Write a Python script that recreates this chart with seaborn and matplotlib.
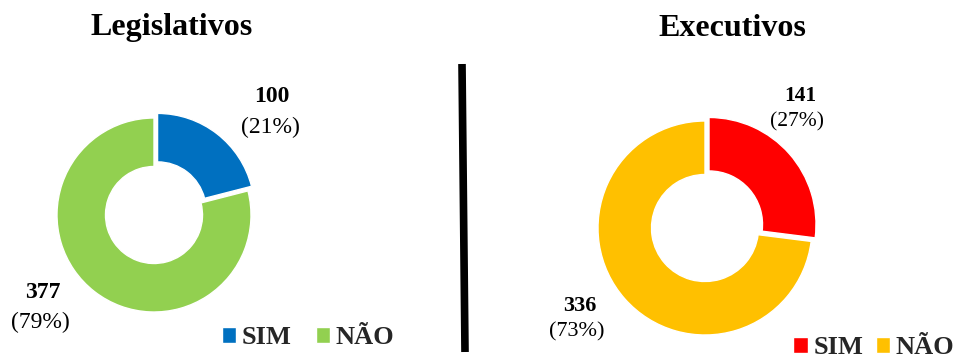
import matplotlib
matplotlib.use("Agg")
import matplotlib.pyplot as plt
import seaborn as sns

sns.set_theme(style="white")
plt.rcParams["font.family"] = ["Liberation Serif", "DejaVu Serif"]

# Data
categories = ["SIM", "NÃO"]
leg_counts = [100, 377]
leg_shares = [21, 79]
exe_counts = [141, 336]
exe_shares = [27, 73]
leg_colors = ["#0070C0", "#92D050"]
exe_colors = ["#FF0000", "#FFC000"]

W, H = 958, 359
fig = plt.figure(figsize=(W / 100, H / 100), dpi=100)
fig.patch.set_facecolor("white")


def px_axes(cx, cy, r):
    return fig.add_axes([(cx - r) / W, (H - cy - r) / H, 2 * r / W, 2 * r / H])


def donut(ax, shares, colors, explode):
    wedges, _ = ax.pie(shares, colors=colors, startangle=90, counterclock=False,
                       explode=[explode, 0], radius=1.0,
                       wedgeprops=dict(width=0.5, edgecolor="white", linewidth=1.0))
    ax.set_xlim(-1, 1)
    ax.set_ylim(-1, 1)
    ax.set_aspect("equal")
    ax.axis("off")
    return wedges


def ftext(x, y, s, size, bold=False):
    fig.text(x / W, 1 - y / H, s, ha="center", va="center", fontsize=size,
             fontweight="bold" if bold else "normal", color="black")


def legend(handles, cx, cy, spacing):
    fig.legend(handles, categories, loc="center", bbox_to_anchor=(cx / W, 1 - cy / H),
               ncol=2, frameon=False, handlelength=0.55, handleheight=0.55,
               handletextpad=0.22, columnspacing=spacing, borderpad=0.0,
               borderaxespad=0.0,
               prop=dict(family="Liberation Serif", weight="bold", size=19))


# Legislativos
ax1 = px_axes(154, 215, 97)
w1 = donut(ax1, leg_shares, leg_colors, 0.06)
ftext(172, 28, "Legislativos", 23, bold=True)
ftext(272, 97, f"{leg_counts[0]}", 17, bold=True)
ftext(270, 127, f"({leg_shares[0]}%)", 17)
ftext(43, 293, f"{leg_counts[1]}", 17, bold=True)
ftext(40, 322, f"({leg_shares[1]}%)", 17)
legend(w1, 308, 338, 0.9)

# Executivos
ax2 = px_axes(705, 228, 107)
w2 = donut(ax2, exe_shares, exe_colors, 0.05)
ftext(732, 28, "Executivos", 23, bold=True)
ftext(800, 96, f"{exe_counts[0]}", 15.5, bold=True)
ftext(797, 122, f"({exe_shares[0]}%)", 15.5)
ftext(580, 306, f"{exe_counts[1]}", 16, bold=True)
ftext(577, 332, f"({exe_shares[1]}%)", 16)
legend(w2, 874, 348, 0.45)

# Divider between the two panels
fig.add_artist(plt.Line2D([462 / W, 465 / W], [1 - 64 / H, 1 - 352 / H],
                          transform=fig.transFigure, color="black", linewidth=5.5,
                          solid_capstyle="butt"))

fig.savefig("out.png", dpi=100, facecolor="white")
